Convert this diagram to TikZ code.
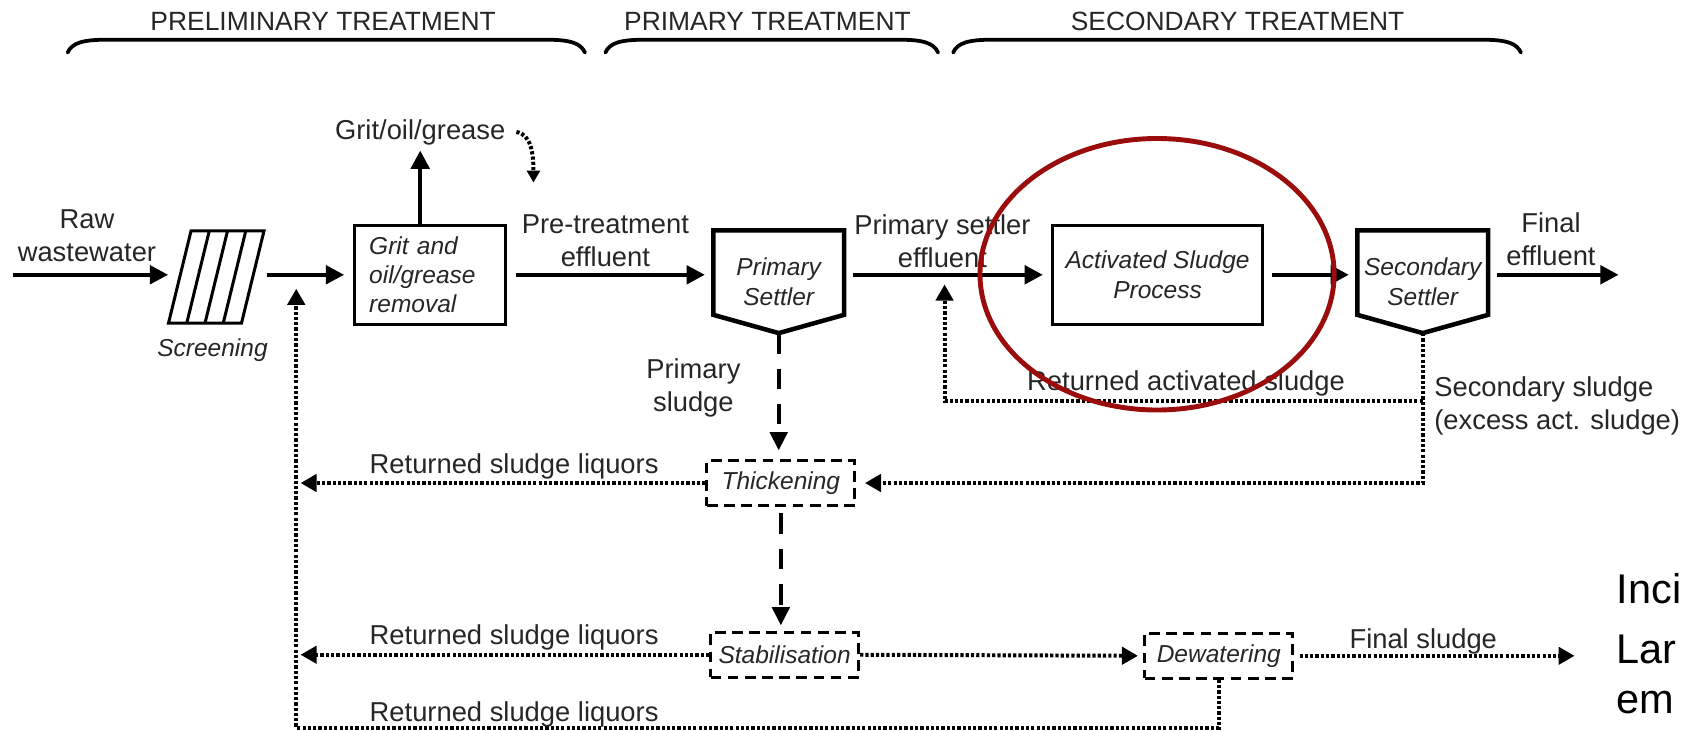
\documentclass[tikz,border=0pt]{standalone}
\usepackage{fontspec}
\setmainfont{Liberation Sans}
\usepackage{tikz}
\usetikzlibrary{positioning}
\usetikzlibrary{arrows.meta}
\definecolor{ringred}{RGB}{155,12,12}

\begin{document}
\begin{tikzpicture}[x={(0.02cm,0)}, y={(0,-0.02cm)}]
        \tikzstyle{txt}=[inner sep=0pt, align=center, text=black!85,
            font=\fontsize{14.5}{17.5}\selectfont]
        \tikzstyle{head}=[inner sep=0pt, text=black!85,
            font=\fontsize{14}{17}\selectfont]
        \tikzstyle{bigtxt}=[inner sep=0pt, anchor=base west,
            font=\fontsize{22}{26}\selectfont]
        \tikzstyle{procbox}=[draw, line width=1.6pt, inner sep=0pt,
            font=\itshape\fontsize{13}{15.5}\selectfont, text=black!85]
        \tikzstyle{settler}=[inner sep=0pt, minimum width=2.42cm,
            minimum height=1.9cm, align=center,
            font=\itshape\fontsize{13}{15.5}\selectfont, text=black!85]
        \tikzstyle{sludgebox}=[draw, line width=1.5pt,
            dash pattern=on 0.2cm off 0.12cm, minimum width=2.76cm,
            minimum height=0.84cm, inner sep=0pt,
            font=\itshape\fontsize{13}{15.5}\selectfont, text=black!85]
        \tikzstyle{flowline}=[line width=2.2pt,
            -{Triangle[length=0.34cm, width=0.34cm]},
            shorten <=0.16cm, shorten >=0.16cm]
        \tikzstyle{dotline}=[line width=2.1pt, dash pattern=on 1.7pt off 1.1pt,
            -{Triangle[length=0.3cm, width=0.32cm]}]
        \tikzstyle{dashline}=[line width=2.2pt, dash pattern=on 0.38cm off 0.28cm,
            -{Triangle[length=0.34cm, width=0.32cm]}]
        \tikzstyle{bracket}=[line width=2pt, line cap=round]

            \useasboundingbox (0,0) rectangle (1568,681);

            \node[head] (prelim) at (301,20) {PRELIMINARY TREATMENT};
            \node[head] (primary) at (715,20) {PRIMARY TREATMENT};
            \node[head] (second) at (1153,20) {SECONDARY TREATMENT};
            \foreach \l/\r in {63/545, 564/874, 888/1417}
                \draw[bracket] (\l,49) .. controls (\l+4,40) and (\l+14,37) .. (\l+36,37)
                -- (\r-36,37) .. controls (\r-14,37) and (\r-4,40) .. (\r,49);

            \node[txt] (rawlbl) at (81,220) {Raw\\wastewater};
            \coordinate (rawin) at (12,256);
            \node[minimum width=1.78cm, minimum height=1.72cm, inner sep=0pt]
            (screen) at (201.5,258) {};
            \draw[line width=1.6pt] (157,301) -- (178,215) -- (246,215)
            -- (225,301) -- cycle;
            \foreach \i in {1,2,3}
                \draw[line width=1.6pt] (157+17*\i,301) -- (178+17*\i,215);
            \node[txt, font=\itshape\fontsize{13}{15.5}\selectfont]
            (screenlbl) at (198,326) {Screening};

            \node[procbox, minimum width=2.82cm, minimum height=1.84cm,
                align=left, text width=2.26cm] (grit) at (400.5,256)
                {Grit and\\oil/grease\\removal};
            \node[procbox, minimum width=3.9cm, minimum height=1.84cm,
                align=center] (asp) at (1078.5,256) {Activated Sludge\\Process};

            \node[settler] (psettler) at (725.5,262.5) {Primary\\Settler};
            \draw[line width=2.4pt] (psettler.north west) -- (psettler.north east)
            -- ([yshift=0.34cm]psettler.south east) -- (psettler.south)
            -- ([yshift=0.34cm]psettler.south west) -- cycle;
            \node[settler] (ssettler) at (1325.5,262.5) {Secondary\\Settler};
            \draw[line width=2.4pt] (ssettler.north west) -- (ssettler.north east)
            -- ([yshift=0.34cm]ssettler.south east) -- (ssettler.south)
            -- ([yshift=0.34cm]ssettler.south west) -- cycle;

            \draw[flowline, shorten <=0pt, shorten >=0pt] (rawin) -- (rawin -| screen.west);
            \draw[flowline, shorten <=0.04cm] (screen.east |- grit.west) -- (grit.west);
            \draw[flowline] (grit.east) -- (grit.east -| psettler.west);
            \draw[flowline] (psettler.east |- asp.west) -- (asp.west);
            \draw[flowline] (asp.east) -- (asp.east -| ssettler.west);
            \coordinate (finalout) at (1508,256);
            \draw[flowline, shorten >=0pt] (ssettler.east |- finalout) -- (finalout);

            \node[txt] (gritoil) at (391.5,123) {Grit/oil/grease};
            \draw[flowline, shorten <=0pt, shorten >=0.1cm]
            (gritoil.south |- grit.north) -- (gritoil.south);
            \coordinate (gritdrop) at (497,170);
            \draw[dotline, -{Triangle[length=0.22cm, width=0.24cm]}]
            ([xshift=0.2cm]gritoil.east) .. controls +(14,2) and +(0,-26) .. (gritdrop);

            \node[txt] (pretreat) at (564,224.5) {Pre-treatment\\effluent};
            \node[txt] (pseff) at (878,224.5) {Primary settler\\effluent};
            \node[txt] (finaleff) at (1445,223) {Final\\effluent};

            \node[txt] (psludge) at (646,361) {Primary\\sludge};
            \node[sludgebox] (thick) at (727.5,450) {Thickening};
            \node[sludgebox] (stab) at (731,610) {Stabilisation};
            \node[sludgebox] (dew) at (1135.5,611) {Dewatering};
            \draw[dashline, shorten >=0.16cm] (psettler.south) -- (psettler.south |- thick.north);
            \draw[dashline, shorten <=0.12cm, shorten >=0.1cm]
            (thick.south) -- (thick.south |- stab.north);

            \coordinate (retcorner) at (276,678);
            \coordinate (retin) at (276,269);
            \draw[dotline] (dew.south) |- (retcorner) -- (retin);
            \draw[dotline, shorten >=0.08cm] (thick.west) -- (thick.west -| retcorner);
            \draw[dotline, shorten >=0.08cm] (stab.west) -- (stab.west -| retcorner);
            \draw[dotline, shorten >=0.1cm] (stab.east) -- (dew.west);
            \coordinate (sludgeout) at (1467,611);
            \draw[dotline, shorten <=0.1cm] (dew.east) -- (sludgeout);
            \draw[dotline, shorten >=0.16cm] (ssettler.south) |- (thick.east);
            \coordinate (rasline) at (880,374);
            \coordinate (rasin) at (880,265);
            \draw[dotline] (ssettler.south |- rasline) -- (rasline) -- (rasin);

            \node[txt] (liq1) at (479,435) {Returned sludge liquors};
            \node[txt] (liq2) at (479,594) {Returned sludge liquors};
            \node[txt] (liq3) at (479,666) {Returned sludge liquors};
            \node[txt] (raslbl) at (1105,357) {Returned activated sludge};
            \node[txt, align=left, anchor=west] (secsludge) at (1336,378)
            {Secondary sludge\\(excess act. sludge)};
            \node[txt] (finalsludge) at (1326,598) {Final sludge};

            \node[bigtxt] (incinote) at (1506,562) {Inci};
            \node[bigtxt] (landnote) at (1506,618) {Lar};
            \node[bigtxt] (emnote) at (1506,665) {em};

            \draw[ringred, line width=2.6pt] (1078,255.5) ellipse [x radius=3.3cm, y radius=2.53cm];
        \end{tikzpicture}
\end{document}
